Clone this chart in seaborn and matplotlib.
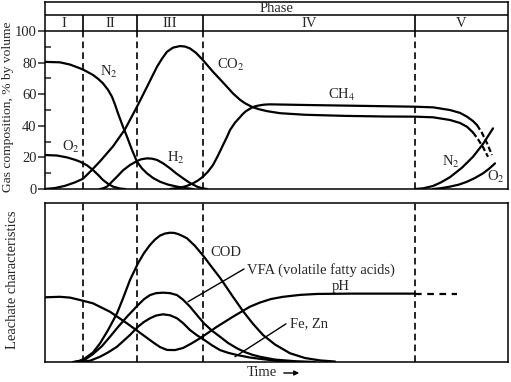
import matplotlib
matplotlib.use("Agg")
import matplotlib.pyplot as plt
import seaborn as sns

# time axis in arbitrary units (no tick labels on the original)
t_max = 463
phase_edges = [38, 92, 158, 370]
phase_names = ["I", "II", "III", "IV", "V"]

# --- gas composition, % by volume ---
n2_t = [0, 15, 25, 35, 39, 48, 53, 58, 63, 67, 70, 73, 78, 82, 87, 92, 97, 102, 108, 115, 123, 132, 140, 148]
n2_y = [80.5, 80.2, 78.8, 76.4, 75.3, 72.2, 69.8, 66.9, 62.8, 58.4, 53.5, 47.9, 39.4, 33.1, 24.7, 17.3, 13, 9.9,
        7, 4.6, 2.8, 1.5, 0.6, 0]
o2_t = [0, 12, 22, 30, 35, 42, 48, 53, 58, 63, 68, 75, 80]
o2_y = [21.5, 21.2, 20, 18.5, 17.3, 15, 12, 9, 5.7, 3.3, 1.5, 0.3, 0]
co2_t = [0, 10, 20, 30, 38, 46, 55, 68, 80, 92, 102, 112, 117, 122, 128, 135, 140, 145, 151, 158, 168, 175,
         182, 188, 195, 200, 207, 214, 222, 235, 260, 300, 340, 370, 388, 405, 415, 422, 428]
co2_y = [0, 0.6, 2, 4.2, 6.5, 11.5, 17.5, 27, 37.8, 52.1, 64.7, 77.4, 82.5, 86.9, 89.5, 90.5, 90.2, 89, 86.2,
         81.6, 74.2, 69.5, 64.7, 60.5, 56.5, 54.3, 52, 50.5, 49.3, 48, 47, 46.3, 45.9, 45.8, 45.4, 43.7, 41.8,
         39.4, 35.8]
co2_tail_t = [428, 433, 438, 443]
co2_tail_y = [35.8, 31.5, 26.5, 20.4]
ch4_t = [125, 135, 142, 148, 153, 158, 163, 168, 173, 178, 182, 185, 190, 195, 198, 201, 207, 211, 215, 219,
         225, 260, 300, 340, 370, 388, 405, 415, 422, 428, 432]
ch4_y = [0, 0.8, 2, 3.6, 5.4, 7.8, 11, 15.2, 21.2, 27.8, 33, 37.3, 42, 45.5, 47.6, 49.3, 51.6, 52.5, 53, 53.4,
         53.6, 53.2, 52.8, 52.4, 52.1, 51.7, 50, 48.2, 45.8, 43, 40.5]
ch4_tail_t = [432, 437, 442, 447]
ch4_tail_y = [40.5, 35.5, 29, 21.5]
h2_t = [55, 58, 62, 66, 72, 78, 85, 92, 96, 102, 107, 112, 118, 125, 131, 138, 145, 152, 157, 162]
h2_y = [0, 0.4, 1.5, 4, 7.8, 11.8, 15.2, 17.7, 18.8, 19.4, 19.2, 18.4, 16.3, 13.1, 10, 6.8, 3.8, 1.5, 0.5, 0]
n2v_t = [370, 378, 388, 396, 405, 417, 428, 438, 448]
n2v_y = [0, 0.4, 1.9, 4.2, 7.5, 13.5, 20.4, 28.5, 38.4]
o2v_t = [388, 396, 405, 414, 422, 430, 438, 444, 450]
o2v_y = [0, 0.5, 1.5, 2.8, 4.6, 7, 9.9, 12.8, 16.2]

# --- leachate characteristics (relative) ---
ph_t = [0, 15, 25, 35, 48, 65, 82, 98, 108, 115, 122, 130, 138, 146, 155, 172, 188, 205, 215, 226, 238, 255,
        272, 305, 340, 370]
ph_y = [40.7, 41, 40.5, 39, 36.9, 31.6, 24.3, 17, 12.4, 9.4, 7.6, 7.5, 8.8, 11.5, 14.9, 22.2, 28.5, 34.8, 37.4,
        39.6, 41, 42.2, 42.8, 43, 43, 43]
ph_tail_t = [370, 412]
ph_tail_y = [43, 43]
cod_t = [28, 35, 40, 48, 55, 63, 72, 78, 85, 93, 99, 105, 110, 115, 120, 125, 129, 133, 137, 142, 150, 159,
         167, 175, 188, 198, 208, 218, 230, 245, 260, 275, 290]
cod_y = [0, 0.8, 2.3, 6, 11.7, 20, 30.6, 40, 51.6, 62.1, 68.5, 73.6, 77, 79.5, 80.8, 81.3, 81.2, 80.5, 79.4,
         77.8, 73, 66.2, 59.5, 53, 41, 32, 24, 17, 11, 5.5, 2.5, 1, 0.3]
vfa_t = [30, 40, 48, 57, 65, 73, 82, 93, 99, 105, 111, 118, 125, 132, 138, 145, 152, 159, 167, 175, 183, 192,
         200, 208, 215, 230, 250, 270]
vfa_y = [0, 1.5, 5, 10, 15.9, 22, 28.5, 35.8, 39.5, 42.1, 43.3, 43.6, 43.3, 42.1, 39.2, 34.8, 29.5, 24.3, 19.7,
         15.9, 12, 8.6, 6.2, 4.4, 3.3, 1.5, 0.5, 0]
fezn_t = [35, 45, 55, 63, 72, 85, 93, 99, 105, 111, 118, 125, 132, 138, 145, 152, 159, 167, 175, 183, 192,
          205, 215, 235, 250]
fezn_y = [0, 0.8, 3.3, 6, 9.6, 17, 22.2, 25.2, 27.5, 29.2, 30, 29.4, 27.5, 24.5, 20.1, 16.8, 14, 10.5, 7.5, 5.8,
          4.4, 2.8, 2, 0.5, 0]

sns.set_theme(style="white")
plt.rcParams["font.family"] = ["Liberation Serif", "DejaVu Serif"]
plt.rcParams["mathtext.fontset"] = "stix"
plt.rcParams["font.size"] = 10.5

fig = plt.figure(figsize=(5.11, 3.82), dpi=100)
ax1 = fig.add_axes([45 / 511, 1 - 189 / 382, 463 / 511, 187 / 382])
ax2 = fig.add_axes([45 / 511, 1 - 362 / 382, 463 / 511, 159 / 382])

lw = 1.6
kw = dict(color="black", linewidth=lw, sort=False, estimator=None)

for t, y in [(n2_t, n2_y), (o2_t, o2_y), (co2_t, co2_y), (ch4_t, ch4_y), (h2_t, h2_y),
             (n2v_t, n2v_y), (o2v_t, o2v_y)]:
    sns.lineplot(x=t, y=y, ax=ax1, **kw)
for t, y in [(co2_tail_t, co2_tail_y), (ch4_tail_t, ch4_tail_y)]:
    sns.lineplot(x=t, y=y, ax=ax1, linestyle=(0, (2.5, 1.2)), **kw)

for t, y in [(ph_t, ph_y), (cod_t, cod_y), (vfa_t, vfa_y), (fezn_t, fezn_y)]:
    sns.lineplot(x=t, y=y, ax=ax2, **kw)
sns.lineplot(x=ph_tail_t, y=ph_tail_y, ax=ax2, linestyle=(0, (3, 2.5)), **kw)

# phase dividers and header
ax1.vlines(phase_edges, 0, 100, colors="black", linestyles=(0, (4, 2.5)), linewidth=1.2)
ax1.vlines(phase_edges, 100, 110, colors="black", linewidth=1.2)
ax1.axhline(100, color="black", linewidth=1.1)
ax1.axhline(110, color="black", linewidth=1.1)
ax2.vlines(phase_edges, 0, 100, colors="black", linestyles=(0, (4, 2.5)), linewidth=1.2)

edges = [0] + phase_edges + [t_max]
for i, name in enumerate(phase_names):
    ax1.text((edges[i] + edges[i + 1]) / 2, 105, name, ha="center", va="center")
ax1.text(t_max / 2, 114.3, "Phase", ha="center", va="center")

for ax, top in [(ax1, 118.4), (ax2, 100)]:
    ax.set_xlim(0, t_max)
    ax.set_ylim(0, top)
    ax.set_xticks([])
    for s in ax.spines.values():
        s.set_color("black")
        s.set_linewidth(1.1)
    ax.set_xlabel("")
    ax.set_ylabel("")

ax1.set_yticks([0, 20, 40, 60, 80, 100])
ax1.set_yticks([10, 30, 50, 70, 90], minor=True)
ax1.tick_params(axis="y", which="major", direction="out", length=5, width=1.1, left=True, labelsize=10.5, pad=1)
ax1.tick_params(axis="y", which="minor", direction="in", length=4, width=1.1, left=True)
ax2.set_yticks([])

# curve labels
ax1.text(55, 74, "N$_2$", va="center")
ax1.text(17, 26.6, "O$_2$", va="center")
ax1.text(122, 19.6, "H$_2$", va="center")
ax1.text(172, 78.5, "CO$_2$", va="center")
ax1.text(283, 59.5, "CH$_4$", va="center")
ax1.text(397, 17, "N$_2$", va="center")
ax1.text(442, 7.6, "O$_2$", va="center")

ax2.text(165, 68.6, "COD", va="center")
ax2.text(202, 57.9, "VFA (volatile fatty acids)", va="center")
ax2.text(296, 47.5, "pH", ha="center", va="center")
ax2.text(245, 24, "Fe, Zn", va="center")
ax2.annotate("", xy=(143, 37.9), xytext=(199, 58.5),
             arrowprops=dict(arrowstyle="-", color="black", lw=1, shrinkA=0, shrinkB=0))
ax2.annotate("", xy=(190, 3.3), xytext=(241, 24),
             arrowprops=dict(arrowstyle="-", color="black", lw=1, shrinkA=0, shrinkB=0))

fig.text(8 / 511, 1 - 107 / 382, "Gas composition, % by volume", rotation=90,
         ha="center", va="center", fontsize=9.7)
fig.text(12.5 / 511, 1 - 280 / 382, "Leachate characteristics", rotation=90,
         ha="center", va="center")
fig.text(247 / 511, 1 - 373 / 382, "Time", ha="left", va="center")
fig.add_artist(matplotlib.patches.FancyArrowPatch((281 / 511, 1 - 373 / 382), (302 / 511, 1 - 373 / 382),
                                                  transform=fig.transFigure, arrowstyle="-|>",
                                                  mutation_scale=7, color="black", lw=1))

fig.savefig("out.png", dpi=100)
